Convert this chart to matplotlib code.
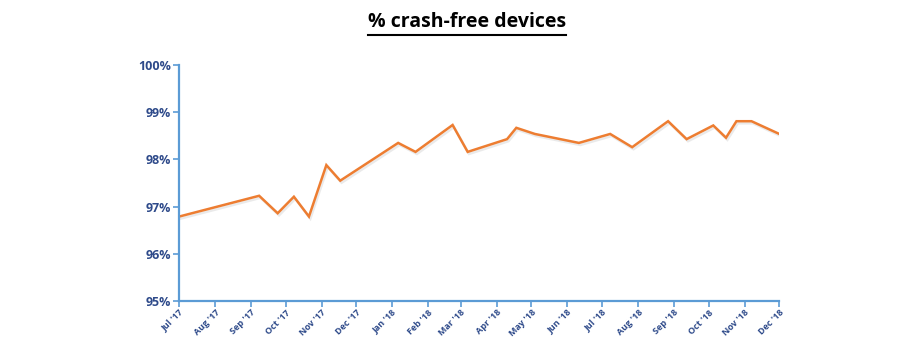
import matplotlib
matplotlib.use("Agg")
import matplotlib.pyplot as plt
import matplotlib.dates as mdates
import matplotlib.patheffects as pe
from matplotlib.lines import Line2D
import pandas as pd

# data
dates = [
    "2017-07-01", "2017-09-08", "2017-09-24", "2017-10-08", "2017-10-21",
    "2017-11-05", "2017-11-17", "2018-01-06", "2018-01-21", "2018-02-22",
    "2018-03-07", "2018-04-10", "2018-04-18", "2018-05-04", "2018-06-11",
    "2018-07-08", "2018-07-27", "2018-08-27", "2018-09-12", "2018-10-05",
    "2018-10-16", "2018-10-25", "2018-11-07", "2018-12-01",
]
crash_free = [
    96.79, 97.23, 96.86, 97.21, 96.79,
    97.88, 97.55, 98.35, 98.16, 98.73,
    98.16, 98.43, 98.67, 98.54, 98.35,
    98.54, 98.26, 98.81, 98.43, 98.72,
    98.46, 98.81, 98.81, 98.54,
]
y_ticks = [95, 96, 97, 98, 99, 100]
title = "% crash-free devices"

x = pd.to_datetime(dates)

axis_blue = "#5b9bd5"
label_navy = "#2e4a8a"
line_orange = "#ed7d31"

plt.rcParams["font.family"] = ["Open Sans", "DejaVu Sans"]

fig = plt.figure(figsize=(9.19, 3.46), dpi=100)
ax = fig.add_axes([0.195, 0.130, 0.653, 0.682])

ax.plot(x, crash_free, color=line_orange, lw=1.8, solid_joinstyle="miter",
        path_effects=[pe.SimpleLineShadow(offset=(1, -1.5), shadow_color="#cccccc", alpha=0.4),
                      pe.Normal()])

ax.set_ylim(95, 100)
ax.set_yticks(y_ticks)
ax.set_yticklabels([f"{v}%" for v in y_ticks])
ax.set_xlim(pd.Timestamp("2017-07-01"), pd.Timestamp("2018-12-01"))
ax.xaxis.set_major_locator(mdates.MonthLocator())
ax.xaxis.set_major_formatter(mdates.DateFormatter("%b '%y"))

for s in ["top", "right"]:
    ax.spines[s].set_visible(False)
for s in ["left", "bottom"]:
    ax.spines[s].set_color(axis_blue)
    ax.spines[s].set_linewidth(1.6)

ax.tick_params(axis="both", colors=axis_blue, width=1.2, length=4, direction="out")
ax.tick_params(axis="y", labelcolor=label_navy, labelsize=9, pad=2)
ax.tick_params(axis="x", labelcolor=label_navy, labelsize=6.5, pad=1)
for lbl in ax.get_yticklabels():
    lbl.set_fontweight("bold")
for lbl in ax.get_xticklabels():
    lbl.set_fontweight("bold")
    lbl.set_rotation(45)
    lbl.set_ha("right")
    lbl.set_rotation_mode("anchor")

# title with underline
t = fig.text(0.508, 0.935, title, ha="center", va="center",
             fontsize=14, fontweight="bold", color="black")
fig.canvas.draw()
bb = t.get_window_extent().transformed(fig.transFigure.inverted())
uy = bb.y0 - 0.008
fig.add_artist(Line2D([bb.x0, bb.x1], [uy, uy], transform=fig.transFigure,
                      color="black", lw=1.5))

fig.savefig("out.png", dpi=100)
